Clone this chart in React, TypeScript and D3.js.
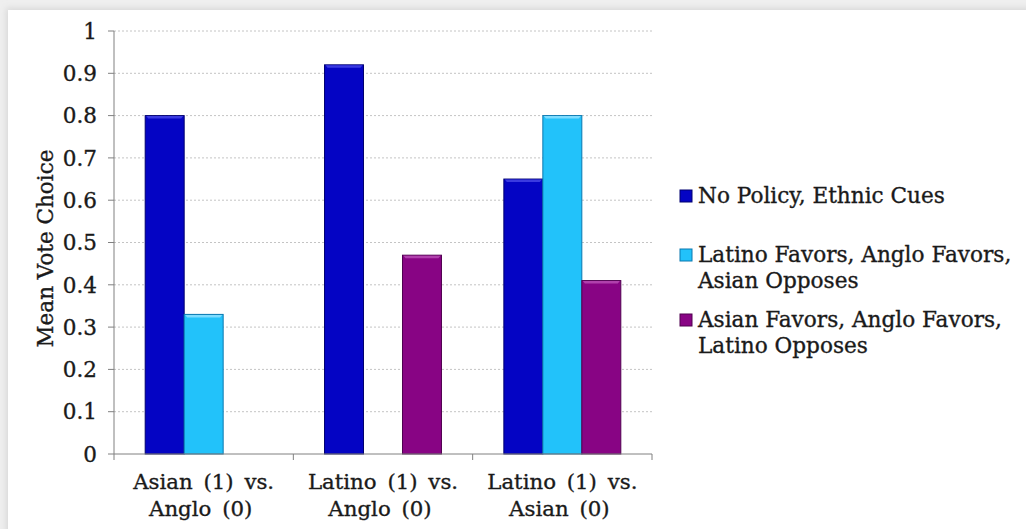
import React from "react";
import * as d3 from "d3";

// Comparison groups (two-line labels)
const groups = ["Asian (1) vs.|Anglo (0)", "Latino (1) vs.|Anglo (0)", "Latino (1) vs.|Asian (0)"];

// Treatment series
const seriesNames = [
  "No Policy, Ethnic Cues",
  "Latino Favors, Anglo Favors, Asian Opposes",
  "Asian Favors, Anglo Favors, Latino Opposes",
];

// Mean vote choice per group (null = condition not run)
const noPolicy: (number | null)[] = [0.8, 0.92, 0.65];
const latinoFavors: (number | null)[] = [0.33, null, 0.8];
const asianFavors: (number | null)[] = [null, 0.47, 0.41];

const yTicks = [0, 0.1, 0.2, 0.3, 0.4, 0.5, 0.6, 0.7, 0.8, 0.9, 1];

const legendLines = [
  ["No Policy, Ethnic Cues"],
  ["Latino Favors, Anglo Favors,", "Asian Opposes"],
  ["Asian Favors, Anglo Favors,", "Latino Opposes"],
];

const fills = ["#0404c4", "#22c2fa", "#880484"];
const strokes = ["#000070", "#0a78b0", "#500050"];
const tops = ["#3a3ae0", "#7ddcff", "#b040ac"];

const W = 1026;
const H = 529;
const FONT = "'DejaVu Serif', serif";
const TEXT = "#1a1a1a";
const textStyle = { fill: TEXT, stroke: TEXT, strokeWidth: 0.35 };

export default function App() {
  const values = [noPolicy, latinoFavors, asianFavors];
  const x0 = d3.scaleBand<string>().domain(groups).range([114, 652]).paddingInner(0).paddingOuter(0);
  const x1 = d3
    .scaleBand<string>()
    .domain(seriesNames)
    .range([0, x0.bandwidth()])
    .paddingInner(0)
    .paddingOuter(0.8);
  const y = d3.scaleLinear().domain([0, 1]).range([454, 31]);
  const [xl, xr] = x0.range();

  return (
    <svg
      width={W}
      height={H}
      style={{ position: "absolute", left: 0, top: 0, background: "#efefef" }}
      fontFamily={FONT}
    >
      <defs>
        <filter id="cardShadow" x="-5%" y="-5%" width="110%" height="110%">
          <feGaussianBlur stdDeviation="3" />
        </filter>
      </defs>
      <rect x={6} y={8} width={W} height={H} fill="#d8d8d8" filter="url(#cardShadow)" />
      <rect x={8} y={10} width={W} height={H} fill="#ffffff" />

      {/* gridlines */}
      {yTicks
        .filter((t) => t > 0)
        .map((t) => (
          <line
            key={"g" + t}
            x1={xl}
            x2={xr}
            y1={y(t)}
            y2={y(t)}
            stroke="#c4c4c4"
            strokeWidth={1}
            strokeDasharray="2,2"
          />
        ))}

      {/* bars */}
      {values.map((vals, si) =>
        vals.map((v, gi) => {
          if (v == null) return null;
          const bx = (x0(groups[gi]) as number) + (x1(seriesNames[si]) as number);
          const bw = x1.bandwidth();
          const by = y(v);
          const bh = y(0) - by;
          return (
            <g key={`b${si}-${gi}`}>
              <rect x={bx} y={by} width={bw} height={bh} fill={fills[si]} stroke={strokes[si]} strokeWidth={1} />
              <polygon
                points={`${bx + 1},${by + 0.5} ${bx + bw - 1},${by + 0.5} ${bx + bw - 3},${by + 3} ${bx + 3},${by + 3}`}
                fill={tops[si]}
              />
            </g>
          );
        })
      )}

      {/* y axis */}
      <line x1={xl} x2={xl} y1={y(1)} y2={y(0)} stroke="#808080" />
      {yTicks.map((t) => (
        <g key={"t" + t}>
          <line x1={xl - 6} x2={xl} y1={y(t)} y2={y(t)} stroke="#808080" />
          <text x={97} y={y(t)} dy="0.36em" textAnchor="end" fontSize={21.5} style={textStyle}>
            {t === 0 || t === 1 ? String(t) : t.toFixed(1)}
          </text>
        </g>
      ))}
      <text
        transform={`translate(53,${(y(0) + y(1)) / 2 + 6}) rotate(-90)`}
        textAnchor="middle"
        fontSize={21.5}
        style={textStyle}
      >
        Mean Vote Choice
      </text>

      {/* x axis */}
      <line x1={xl} x2={xr} y1={y(0)} y2={y(0)} stroke="#808080" />
      {[...groups.map((g) => x0(g) as number), xr].map((xx, i) => (
        <line key={"xt" + i} x1={xx} x2={xx} y1={y(0)} y2={y(0) + 6} stroke="#808080" />
      ))}
      {groups.map((g) => {
        const cx = (x0(g) as number) + x0.bandwidth() / 2;
        const [l1, l2] = g.split("|");
        return (
          <text key={"xl" + g} textAnchor="middle" fontSize={21.3} wordSpacing={4} style={textStyle}>
            <tspan x={cx} y={489}>
              {l1}
            </tspan>
            <tspan x={cx - 3} y={516}>
              {l2}
            </tspan>
          </text>
        );
      })}

      {/* legend */}
      {legendLines.map((lines, i) => {
        const baseY = [203, 262, 327][i];
        return (
          <g key={"lg" + i}>
            <rect x={680} y={baseY - 13} width={12} height={12} fill={fills[i]} stroke={strokes[i]} />
            <text fontSize={21.6} style={textStyle}>
              {lines.map((ln, j) => (
                <tspan key={j} x={698} y={baseY + j * 26}>
                  {ln}
                </tspan>
              ))}
            </text>
          </g>
        );
      })}
    </svg>
  );
}
